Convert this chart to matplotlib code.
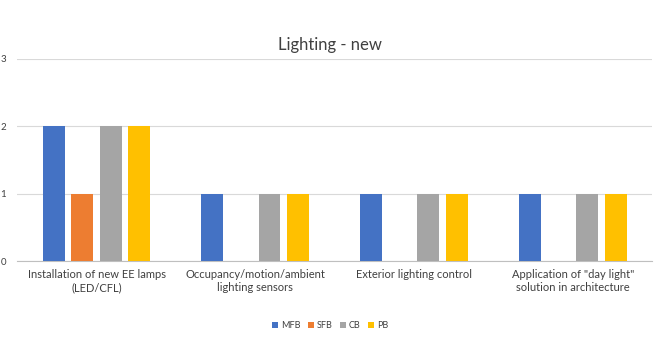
import matplotlib
matplotlib.use("Agg")
import matplotlib.pyplot as plt
import numpy as np

plt.rcParams['font.family'] = ['Lato', 'DejaVu Sans']

categories = [
    "Installation of new EE lamps\n(LED/CFL)",
    "Occupancy/motion/ambient\nlighting sensors",
    "Exterior lighting control",
    "Application of \"day light\"\nsolution in architecture",
]
series_names = ["MFB", "SFB", "CB", "PB"]
mfb = [2, 1, 1, 1]
sfb = [1, 0, 0, 0]
cb = [2, 1, 1, 1]
pb = [2, 1, 1, 1]
colors = ["#4472C4", "#ED7D31", "#A5A5A5", "#FFC000"]

fig = plt.figure(figsize=(6.6, 3.49), dpi=100)
ax = fig.add_axes([0.026, 0.252, 0.962, 0.579])

x = np.arange(len(categories))
width = 0.138
step = 0.18
for i, (name, vals, c) in enumerate(zip(series_names, [mfb, sfb, cb, pb], colors)):
    ax.bar(x + (i - 1.5) * step, vals, width, color=c, label=name, zorder=3)

ax.set_xlim(-0.5, 3.5)
ax.set_ylim(0, 3)
ax.set_yticks([0, 1, 2, 3])
ax.yaxis.grid(True, color="#D9D9D9", linewidth=0.8, zorder=0)
ax.set_xticks(x)
ax.set_xticklabels(categories, fontsize=8, color="#404040")
ax.tick_params(axis="both", length=0, colors="#404040")
ax.tick_params(axis="y", labelsize=7, pad=8)
ax.tick_params(axis="x", pad=6)
for s in ["top", "right", "left"]:
    ax.spines[s].set_visible(False)
ax.spines["bottom"].set_color("#BFBFBF")

fig.suptitle("Lighting - new", x=0.5, y=0.895, fontsize=12, color="#404040")
fig.legend(loc="center", bbox_to_anchor=(0.5, 0.066), ncol=4, fontsize=6.5,
           frameon=False, handlelength=0.7, handleheight=0.7, columnspacing=0.8,
           handletextpad=0.3, labelcolor="#404040")

fig.savefig("out.png", dpi=100)
